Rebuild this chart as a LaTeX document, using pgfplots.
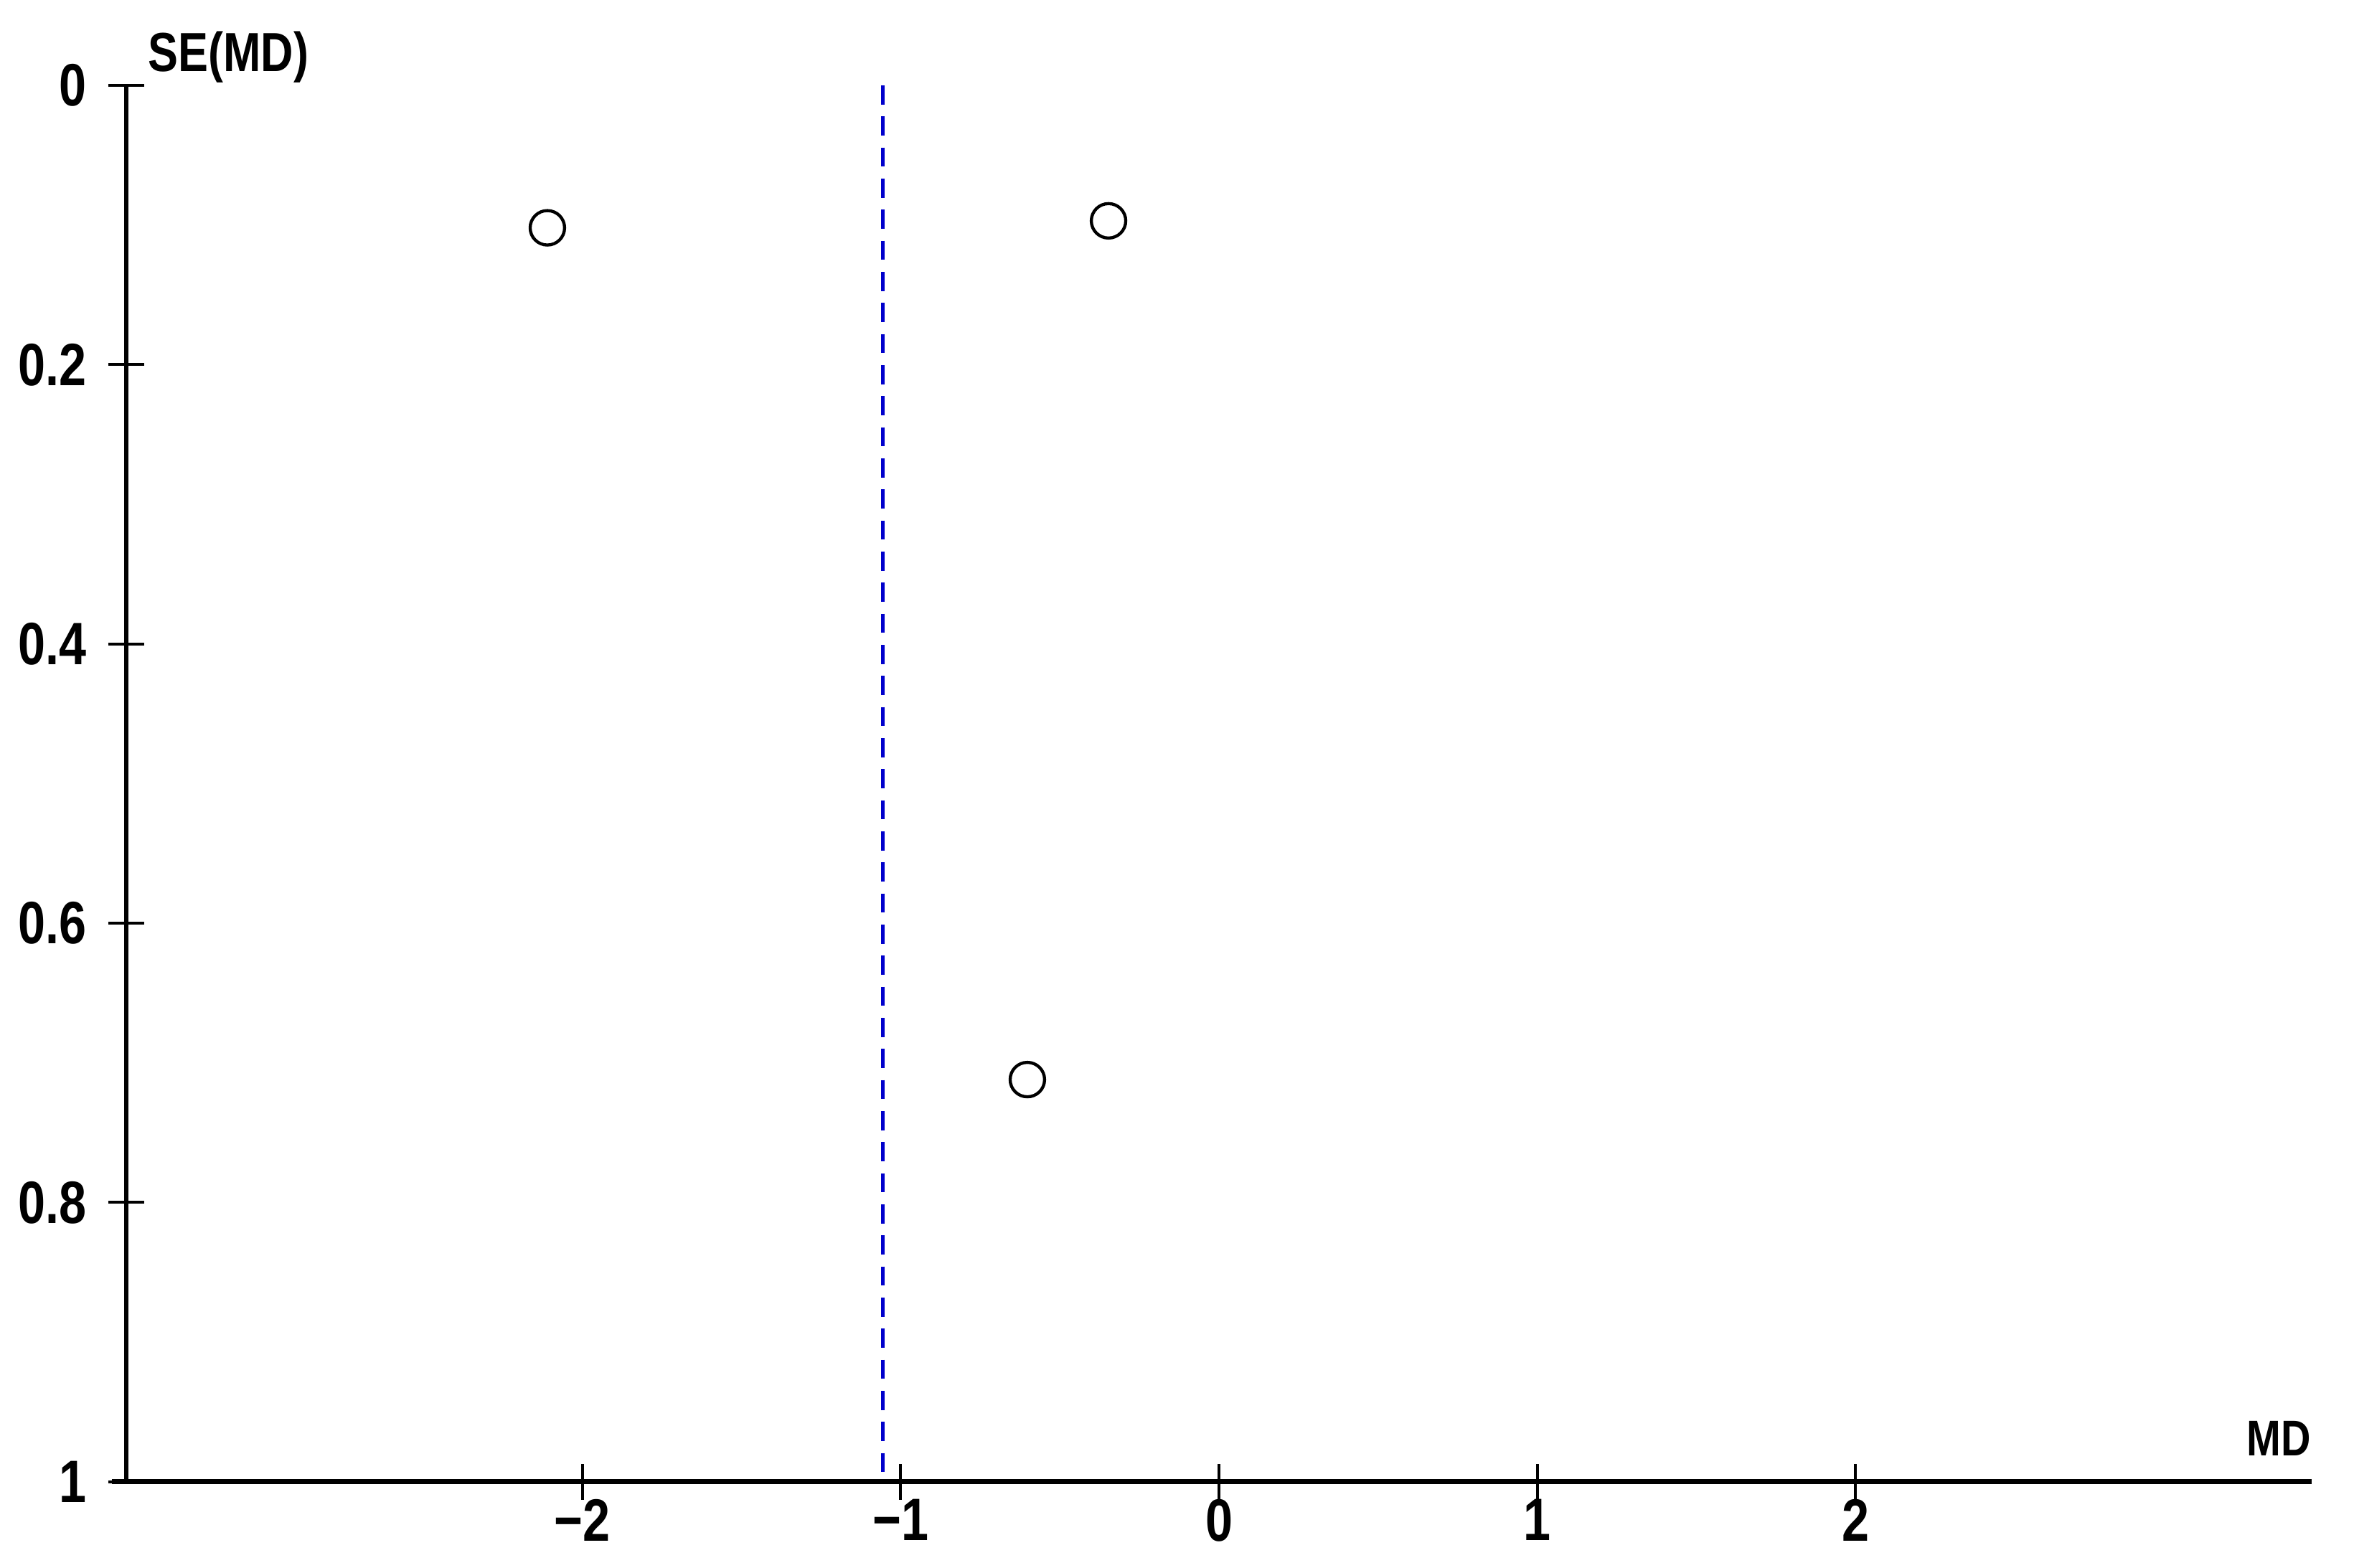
\documentclass[border=0pt]{standalone}
\usepackage{fontspec}
\setmainfont{Liberation Sans}[FakeStretch=0.82]
\usepackage{pgfplots}
\pgfplotsset{compat=1.18}
\definecolor{mdblue}{RGB}{0,0,204}

\begin{document}
\begin{tikzpicture}
\begin{axis}[
    scale only axis,
    width=456.9pt, height=292pt,
    xmin=-3.433, xmax=3.433,
    ymin=0, ymax=1,
    y dir=reverse,
    axis x line=bottom,
    axis y line=left,
    axis line style={-, line width=1pt},
    x axis line style={shorten <=-3pt},
    tick align=center,
    major tick length=7.5pt,
    tick style={line width=0.6pt, black},
    xtick={-2,-1,0,1,2},
    xticklabels={−2,−1,0,1,2},
    ytick={0,0.2,0.4,0.6,0.8,1},
    yticklabels={0,0.2,0.4,0.6,0.8,1},
    ticklabel style={font=\fontsize{12.5}{14}\selectfont\bfseries},
    xticklabel style={yshift=3.6pt},
    yticklabel style={xshift=-1pt},
    clip=false,
]
% pooled mean difference
\addplot[mdblue, line width=0.75pt, dash pattern=on 4pt off 2.5pt] coordinates {(-1.057,0) (-1.057,1)};
% studies
\addplot[only marks, mark=o, mark size=3.6pt, mark options={line width=0.65pt, black}] coordinates {
    (-2.110,0.102)
    (-0.347,0.097)
    (-0.602,0.712)
};
\node[anchor=base west, inner sep=0pt, font=\fontsize{11.5}{14}\selectfont\bfseries] at ([xshift=4.4pt,yshift=2.9pt]rel axis cs:0,1) {SE(MD)};
\node[anchor=base east, inner sep=0pt, font=\fontsize{10.5}{12}\selectfont\bfseries] at ([yshift=5.4pt]rel axis cs:1,0) {MD};
\end{axis}
\pgfresetboundingbox
\path (-26.4pt,-18pt) rectangle (465.75pt,309.85pt);
\end{tikzpicture}
\end{document}
